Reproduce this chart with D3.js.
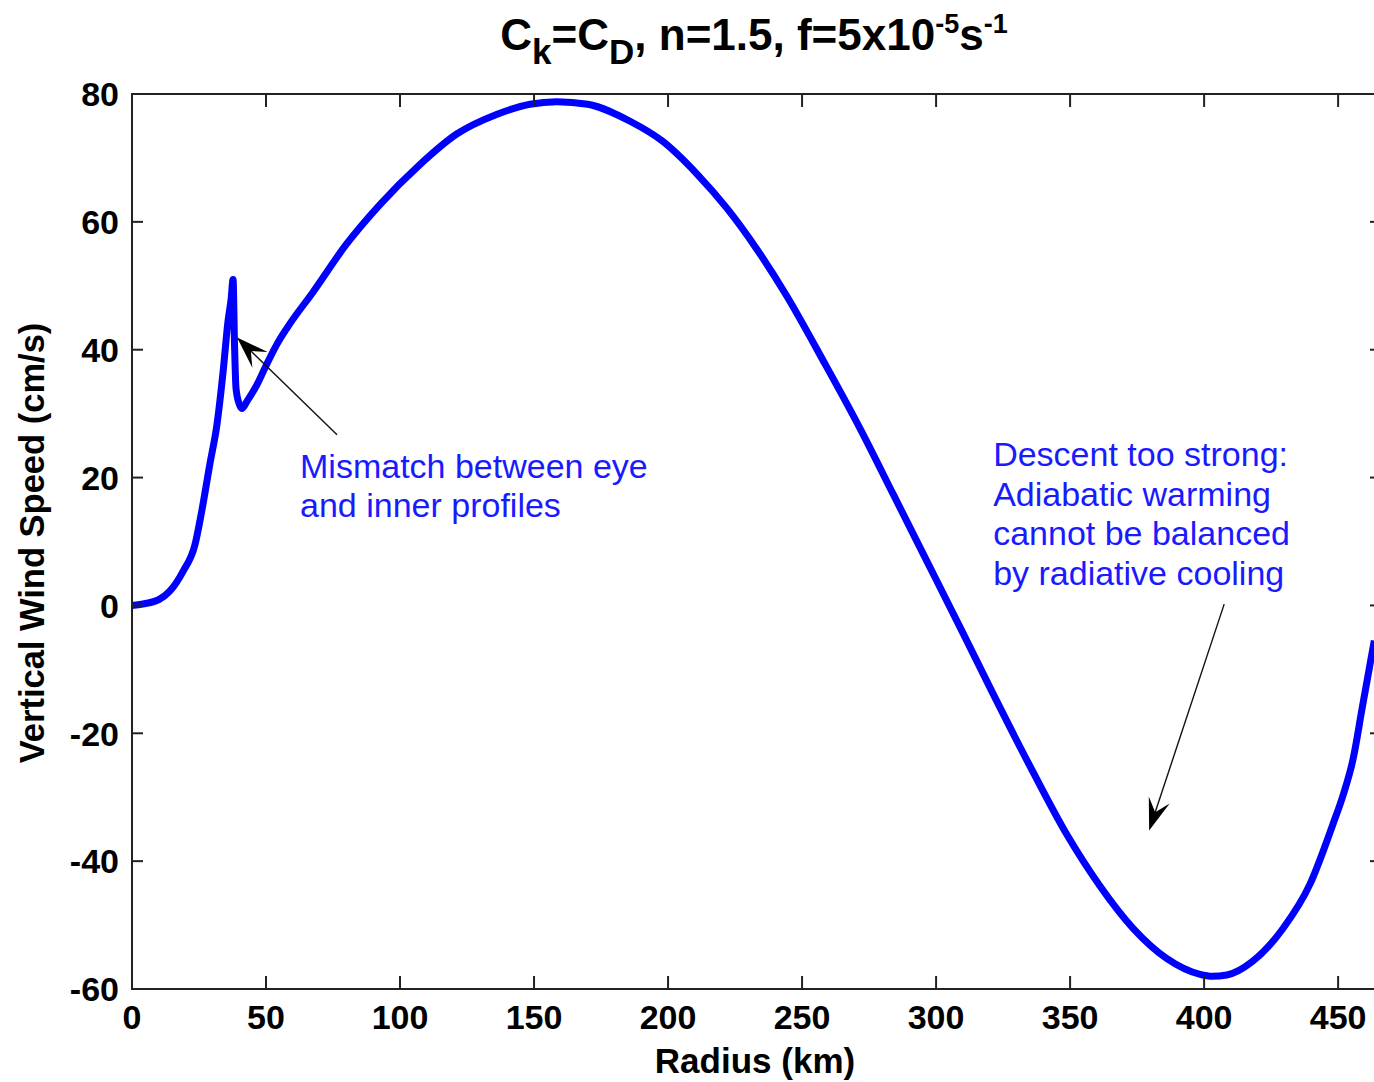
<!DOCTYPE html>
<html>
<head>
<meta charset="utf-8">
<script src="https://cdn.jsdelivr.net/npm/d3@7"></script>
<style>
  html, body { margin: 0; padding: 0; background: #fff; overflow: hidden; }
  text { font-family: Arial, "Liberation Sans", sans-serif; }
</style>
</head>
<body>
<div id="chart"></div>
<script>
// radius (km) and vertical wind speed (cm/s)
const radius = [0, 5, 10, 14, 19, 23.5, 26, 29, 31.7, 34, 35.8, 37, 37.7, 38.3, 38.8, 40, 41, 43, 46.6, 50,
  54, 58, 67.5, 80, 92.5, 107.5, 121, 136, 148.5, 158.5, 170, 186, 198, 211, 222, 233, 244, 258, 271.6,
  284, 296.6, 310, 321, 334, 349, 361, 373.5, 386, 398.5, 403, 408.5, 418, 429.5, 439.5, 448, 452,
  455.6, 459, 462, 463.5];
const wind = [0, 0.3, 0.9, 2.2, 5.3, 9.5, 14.7, 22, 28.3, 36.6, 44.4, 48, 51, 40, 34, 31.5, 30.8, 32, 34.5, 37.5,
  40.8, 43.5, 49, 56.5, 62.7, 69, 73.7, 76.8, 78.4, 78.8, 78.4, 75.7, 72.6, 67.4, 62.1, 55.8, 48.6, 38.2, 27.7,
  17.4, 6.9, -4.3, -13.6, -24.3, -36, -43.8, -50.5, -55.2, -57.7, -58, -57.8, -55.7, -50.5, -43.6, -34.3, -29.5,
  -24, -16, -9, -5.5];

const xTicks = [0, 50, 100, 150, 200, 250, 300, 350, 400, 450];
const yTicks = [-60, -40, -20, 0, 20, 40, 60, 80];

// annotations: text lines and arrows (tail -> tip) in data units
const note1Lines = ["Mismatch between eye", "and inner profiles"];
const note1Pos = [62.7, 20];
const note1Arrow = [[76.5, 26.7], [39.2, 41.9]];
const note2Lines = ["Descent too strong:", "Adiabatic warming", "cannot be balanced", "by radiative cooling"];
const note2Pos = [321.3, 21.8];
const note2Arrow = [[407.5, 0.2], [379.5, -35.2]];

const W = 1374, H = 1082;
const margin = { top: 94, left: 132, bottom: 93, right: -7 };

const svg = d3.select("#chart").append("svg")
  .attr("width", W)
  .attr("height", H);

const x = d3.scaleLinear().domain([0, 466]).range([margin.left, W - margin.right]);
const y = d3.scaleLinear().domain([-60, 80]).range([H - margin.bottom, margin.top]);

const x0 = x.range()[0], x1 = x.range()[1];
const y0 = y.range()[0], y1 = y.range()[1];

// curve
const line = d3.line()
  .x((d, i) => x(radius[i]))
  .y(d => y(d))
  .curve(d3.curveMonotoneX);

svg.append("path")
  .datum(wind)
  .attr("d", line)
  .attr("fill", "none")
  .attr("stroke", "#0000ff")
  .attr("stroke-width", 7)
  .attr("stroke-linejoin", "round");

// frame with inward ticks on all sides
const frame = svg.append("g").attr("stroke", "#222").attr("stroke-width", 2);
frame.append("rect")
  .attr("x", x0).attr("y", y1)
  .attr("width", x1 - x0).attr("height", y0 - y1)
  .attr("fill", "none");

xTicks.forEach(t => {
  frame.append("line").attr("x1", x(t)).attr("x2", x(t)).attr("y1", y0).attr("y2", y0 - 13);
  frame.append("line").attr("x1", x(t)).attr("x2", x(t)).attr("y1", y1).attr("y2", y1 + 13);
});
yTicks.forEach(t => {
  frame.append("line").attr("x1", x0).attr("x2", x0 + 11).attr("y1", y(t)).attr("y2", y(t));
  frame.append("line").attr("x1", x1).attr("x2", x1 - 11).attr("y1", y(t)).attr("y2", y(t));
});

// tick labels
svg.append("g").selectAll("text")
  .data(xTicks)
  .enter().append("text")
  .attr("x", d => x(d))
  .attr("y", y0 + 40)
  .attr("text-anchor", "middle")
  .attr("font-size", 34)
  .attr("font-weight", "bold")
  .text(d => d);

svg.append("g").selectAll("text")
  .data(yTicks)
  .enter().append("text")
  .attr("x", x0 - 13)
  .attr("y", d => y(d))
  .attr("dy", "0.36em")
  .attr("text-anchor", "end")
  .attr("font-size", 34)
  .attr("font-weight", "bold")
  .text(d => d);

// axis labels
svg.append("text")
  .attr("x", (x0 + 1374) / 2 + 2)
  .attr("y", 1073)
  .attr("text-anchor", "middle")
  .attr("font-size", 35)
  .attr("font-weight", "bold")
  .text("Radius (km)");

svg.append("text")
  .attr("transform", `translate(44, 543) rotate(-90)`)
  .attr("text-anchor", "middle")
  .attr("font-size", 34.5)
  .attr("font-weight", "bold")
  .text("Vertical Wind Speed (cm/s)");

// title with sub/superscripts
const title = svg.append("text")
  .attr("x", 754)
  .attr("y", 50)
  .attr("text-anchor", "middle")
  .attr("font-size", 44)
  .attr("font-weight", "bold");
title.append("tspan").text("C");
title.append("tspan").attr("font-size", 35).attr("dy", 14).text("k");
title.append("tspan").attr("dy", -14).text("=C");
title.append("tspan").attr("font-size", 35).attr("dy", 14).text("D");
title.append("tspan").attr("dy", -14).text(", n=1.5, f=5x10");
title.append("tspan").attr("font-size", 27).attr("dy", -17).text("-5");
title.append("tspan").attr("dy", 17).text("s");
title.append("tspan").attr("font-size", 27).attr("dy", -17).text("-1");

// annotation texts
function note(lines, pos) {
  svg.append("g").selectAll("text")
    .data(lines)
    .enter().append("text")
    .attr("x", x(pos[0]))
    .attr("y", (d, i) => y(pos[1]) + i * 39.5)
    .attr("font-size", 34)
    .attr("fill", "#1a1aff")
    .text(d => d);
}
note(note1Lines, note1Pos);
note(note2Lines, note2Pos);

// arrows
function arrow(a) {
  const tx = x(a[0][0]), ty = y(a[0][1]);
  const hx = x(a[1][0]), hy = y(a[1][1]);
  const len = Math.hypot(hx - tx, hy - ty);
  const ux = (hx - tx) / len, uy = (hy - ty) / len;
  const nx = -uy, ny = ux;
  const L = 32, Wd = 11;
  svg.append("line")
    .attr("x1", tx).attr("y1", ty)
    .attr("x2", hx - ux * 15).attr("y2", hy - uy * 15)
    .attr("stroke", "#111")
    .attr("stroke-width", 1.4);
  const pts = [
    [hx, hy],
    [hx - ux * L + nx * Wd, hy - uy * L + ny * Wd],
    [hx - ux * L * 0.6, hy - uy * L * 0.6],
    [hx - ux * L - nx * Wd, hy - uy * L - ny * Wd]
  ];
  svg.append("polygon")
    .attr("points", pts.map(p => p.join(",")).join(" "))
    .attr("fill", "#000");
}
arrow(note1Arrow);
arrow(note2Arrow);
</script>
</body>
</html>
